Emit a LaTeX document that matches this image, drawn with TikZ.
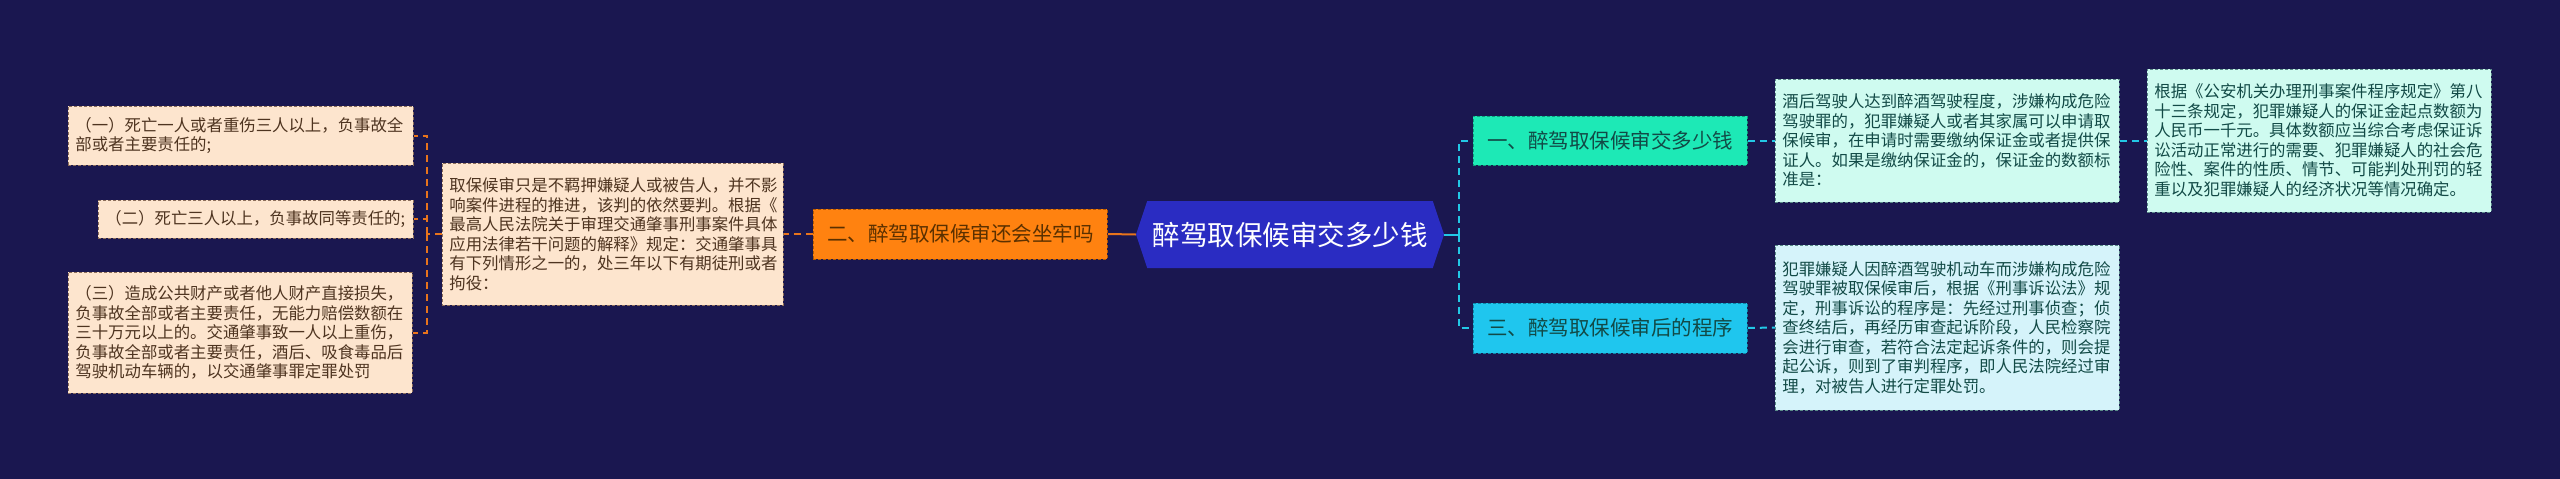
\documentclass[tikz,border=0pt]{standalone}
\usepackage{fontspec}
\setmainfont{Noto Sans CJK SC}
\usetikzlibrary{shapes.symbols}

\definecolor{bgnavy}{HTML}{1A1750}
\definecolor{rootblue}{HTML}{2A2CC2}
\definecolor{orfill}{HTML}{FF8210}
\definecolor{orline}{HTML}{B35A00}
\definecolor{ortext}{HTML}{5A3000}
\definecolor{peach}{HTML}{FDE5CE}
\definecolor{peachline}{HTML}{8C6E5A}
\definecolor{peachtext}{HTML}{4E3420}
\definecolor{tealfill}{HTML}{1DE9B6}
\definecolor{tealline}{HTML}{0E9E7A}
\definecolor{cyanfill}{HTML}{1FC6EE}
\definecolor{cyanline}{HTML}{0D86A6}
\definecolor{darkteal}{HTML}{124A46}
\definecolor{mint}{HTML}{CFFBF0}
\definecolor{icecyan}{HTML}{D5F3FA}
\definecolor{mintline}{HTML}{5A8A88}
\definecolor{linkor}{HTML}{E8741C}
\definecolor{linkcy}{HTML}{22C8E6}

\begin{document}
\begin{tikzpicture}[x=1pt,y=-1pt,
    box/.style={anchor=west, align=left, inner xsep=7pt, inner ysep=0pt, line width=0.8pt, dash pattern=on 3pt off 2pt, font=\fontsize{16.4}{19.5}\selectfont},
    leafL/.style={box, draw=peachline, fill=peach, text=peachtext},
    leafR/.style={box, draw=mintline, fill=mint, text=darkteal},
    topic/.style={anchor=west, align=center, inner sep=0pt, line width=0.8pt, dash pattern=on 3pt off 2pt, font=\fontsize{20.5}{24}\selectfont},
    linkO/.style={draw=linkor, line width=2pt},
    linkC/.style={draw=linkcy, line width=2pt},
    dashO/.style={linkO, dash pattern=on 7pt off 5pt},
    dashC/.style={linkC, dash pattern=on 7pt off 5pt}]
    \fill[bgnavy] (0,0) rectangle (2560,479);
    \useasboundingbox (0,0) rectangle (2560,479);

    % centre
    \node[signal, signal to=west and east, signal pointer angle=143, fill=rootblue, text=white, minimum width=308pt, minimum height=67pt, inner sep=0pt, font=\fontsize{27.5}{30}\selectfont] (root) at (1290,234.5) {醉驾取保候审交多少钱};

    % left branch
    \node[topic, draw=orline, fill=orfill, text=ortext, minimum width=294pt, minimum height=50pt] (q2) at (813,234) {二、醉驾取保候审还会坐牢吗};
    \node[leafL, text width=327pt, minimum height=142pt] (mid) at (442,234) {取保候审只是不羁押嫌疑人或被告人，并不影\\响案件进程的推进，该判的依然要判。根据《\\最高人民法院关于审理交通肇事刑事案件具体\\应用法律若干问题的解释》规定：交通肇事具\\有下列情形之一的，处三年以下有期徒刑或者\\拘役：};
    \node[leafL, text width=331pt, minimum height=59pt] (l1) at (68,135.5) {（一）死亡一人或者重伤三人以上，负事故全\\部或者主要责任的;};
    \node[leafL, text width=301pt, minimum height=38pt] (l2) at (98,219) {（二）死亡三人以上，负事故同等责任的;};
    \node[leafL, text width=330pt, minimum height=121pt] (l3) at (68,332.5) {（三）造成公共财产或者他人财产直接损失，\\负事故全部或者主要责任，无能力赔偿数额在\\三十万元以上的。交通肇事致一人以上重伤，\\负事故全部或者主要责任，酒后、吸食毒品后\\驾驶机动车辆的，以交通肇事罪定罪处罚};

    % right branch
    \node[topic, draw=tealline, fill=tealfill, text=darkteal, minimum width=274pt, minimum height=49pt] (q1) at (1473,140.5) {一、醉驾取保候审交多少钱};
    \node[topic, draw=cyanline, fill=cyanfill, text=darkteal, minimum width=274pt, minimum height=50pt] (q3) at (1473,328) {三、醉驾取保候审后的程序};
    \node[leafR, text width=330pt, minimum height=123pt] (r1) at (1775,140.5) {酒后驾驶人达到醉酒驾驶程度，涉嫌构成危险\\驾驶罪的，犯罪嫌疑人或者其家属可以申请取\\保候审，在申请时需要缴纳保证金或者提供保\\证人。如果是缴纳保证金的，保证金的数额标\\准是：};
    \node[leafR, text width=330pt, minimum height=143pt] (r1b) at (2147,140.5) {根据《公安机关办理刑事案件程序规定》第八\\十三条规定，犯罪嫌疑人的保证金起点数额为\\人民币一千元。具体数额应当综合考虑保证诉\\讼活动正常进行的需要、犯罪嫌疑人的社会危\\险性、案件的性质、情节、可能判处刑罚的轻\\重以及犯罪嫌疑人的经济状况等情况确定。};
    \node[leafR, fill=icecyan, text width=330pt, minimum height=165pt] (r2) at (1775,327.5) {犯罪嫌疑人因醉酒驾驶机动车而涉嫌构成危险\\驾驶罪被取保候审后，根据《刑事诉讼法》规\\定，刑事诉讼的程序是：先经过刑事侦查；侦\\查终结后，再经历审查起诉阶段，人民检察院\\会进行审查，若符合法定起诉条件的，则会提\\起公诉，则到了审判程序，即人民法院经过审\\理，对被告人进行定罪处罚。};

    % connectors
    \coordinate (jl) at (427,234);
    \coordinate (jr) at (1459,234.5);
    \draw[linkO] (root.west) -- (q2.east);
    \draw[dashO] (q2.west) -- (mid.east);
    \draw[dashO] (mid.west) -- (jl);
    \draw[dashO] (jl) |- (l1.east);
    \draw[dashO] (jl) |- (l2.east);
    \draw[dashO] (jl) |- (l3.east);
    \draw[linkC] (root.east) -- (jr);
    \draw[dashC] (jr) |- (q1.west);
    \draw[dashC] (jr) |- (q3.west);
    \draw[dashC] (q1.east) -- (r1.west);
    \draw[dashC] (r1.east) -- (r1b.west);
    \draw[dashC] (q3.east) -- (r2.west);
\end{tikzpicture}
\end{document}
